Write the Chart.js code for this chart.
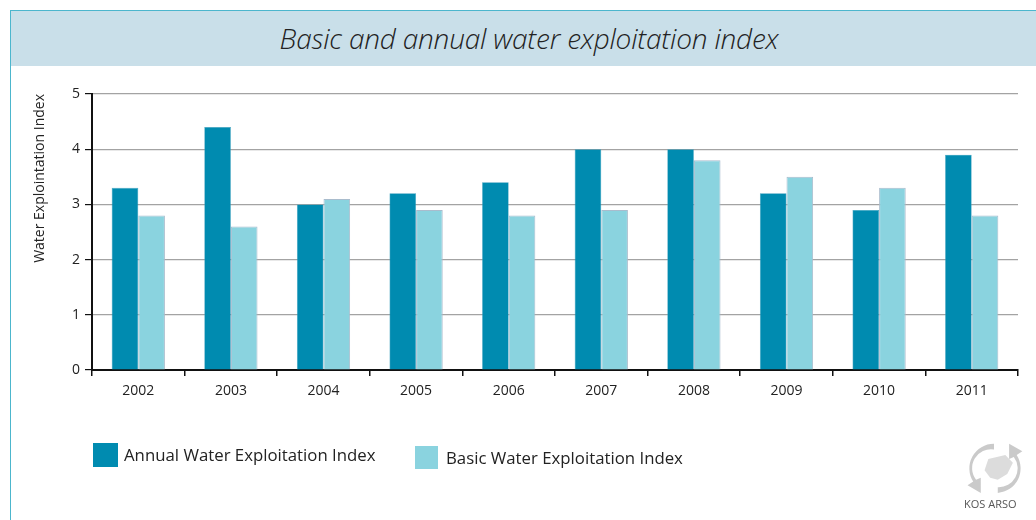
<!DOCTYPE html>
<html>
<head>
<meta charset="utf-8">
<script src="https://cdn.jsdelivr.net/npm/chart.js@4.4.1/dist/chart.umd.min.js"></script>
<style>
  html, body { margin: 0; padding: 0; background: #fff; }
  body { width: 1036px; height: 520px; position: relative; overflow: hidden; font-family: "Open Sans", "Noto Sans", sans-serif; }
  #frame { position: absolute; left: 10px; top: 10px; width: 1040px; height: 530px; border: 1.5px solid #4cb6cd; box-sizing: border-box; }
  #titleband { position: absolute; left: 0; top: 0; right: 0; height: 55px; background: #c9dfe9; }
  #title { position: absolute; left: 0; width: 1036px; top: 0; height: 55px; line-height: 55px; text-align: center; font-style: italic; font-weight: 300; font-size: 28px; color: #222; letter-spacing: -0.2px; }
  #chartwrap { position: absolute; left: 0; top: 0; width: 1036px; height: 520px; }
  .lg { position: absolute; font-size: 16.8px; color: #222; white-space: nowrap; }
  .sw { position: absolute; }
  #logo { position: absolute; left: 960px; top: 434px; width: 68px; height: 80px; }
  #logotext { position: absolute; left: 964px; top: 496px; font-size: 11px; color: #555; white-space: nowrap; }
</style>
</head>
<body>
<div id="frame">
  <div id="titleband"><div id="title">Basic and annual water exploitation index</div></div>
</div>
<div id="chartwrap"><canvas id="c" width="1036" height="520"></canvas></div>
<div class="sw" id="sw1" style="left:93px;top:443px;width:25px;height:24px;"></div>
<div class="lg" id="lg1" style="left:124px;top:443px;"></div>
<div class="sw" id="sw2" style="left:415px;top:446px;width:23px;height:23px;"></div>
<div class="lg" id="lg2" style="left:446px;top:446px;"></div>
<svg id="logo" viewBox="0 0 72 84">
  <path d="M36 10 A26 26 0 0 0 14 50 L8 54 L22 62 L22 46 L17 48 A20 20 0 0 1 36 16 Z" fill="#cacaca"/>
  <path d="M40 62 A26 26 0 0 0 60 22 L66 18 L52 10 L52 26 L57 24 A20 20 0 0 1 40 56 Z" fill="#cacaca"/>
  <path d="M30 26 L48 22 L56 30 L50 42 L40 48 L32 46 L26 38 Z" fill="#dcdcdc"/>
</svg>
<div id="logotext">KOS ARSO</div>
<script>
const categories = ["2002","2003","2004","2005","2006","2007","2008","2009","2010","2011"];
const annualIndex = [3.3, 4.4, 3.0, 3.2, 3.4, 4.0, 4.0, 3.2, 2.9, 3.9];
const basicIndex  = [2.8, 2.6, 3.1, 2.9, 2.8, 2.9, 3.8, 3.5, 3.3, 2.8];
const seriesNames = ["Annual Water Exploitation Index", "Basic Water Exploitation Index"];
const yTitle = "Water Explointation Index";

const annualColor = "#008bb0";
const basicColor = "#8ad3df";

document.getElementById('sw1').style.background = annualColor;
document.getElementById('sw2').style.background = basicColor;
document.getElementById('lg1').textContent = seriesNames[0];
document.getElementById('lg2').textContent = seriesNames[1];

const tickFont = { family: "'Open Sans', 'Noto Sans', sans-serif", size: 14 };

new Chart(document.getElementById('c'), {
  type: 'bar',
  data: {
    labels: categories,
    datasets: [
      { label: seriesNames[0], data: annualIndex, backgroundColor: annualColor, borderColor: "#3a9ebd", borderWidth: 0.6 },
      { label: seriesNames[1], data: basicIndex, backgroundColor: basicColor, borderColor: "#a9bccd", borderWidth: 1 }
    ]
  },
  options: {
    responsive: false,
    animation: false,
    layout: { padding: { left: 32, top: 94, right: 18, bottom: 110 } },
    datasets: { bar: { barPercentage: 1.0, categoryPercentage: 0.575 } },
    plugins: { legend: { display: false }, tooltip: { enabled: false } },
    scales: {
      x: {
        offset: true,
        grid: { display: true, drawOnChartArea: false, drawTicks: true, tickLength: 6, tickColor: '#111', lineWidth: 1.5, offset: true },
        border: { display: true, color: '#111', width: 2 },
        ticks: { color: '#222', font: tickFont, padding: 7 },
        afterFit: s => { s.height = 40; }
      },
      y: {
        min: 0, max: 5,
        ticks: { stepSize: 1, color: '#222', font: tickFont, padding: 5 },
        grid: { color: '#a3a3a3', lineWidth: 1.2, tickLength: 7, tickColor: '#111' },
        border: { display: true, color: '#111', width: 2 },
        title: { display: true, text: yTitle, align: 'end', color: '#222', font: { family: "'Open Sans', 'Noto Sans', sans-serif", size: 14 }, padding: { top: 0, bottom: 4 } },
        afterFit: s => { s.width = 60; }
      }
    }
  }
});
</script>
</body>
</html>
